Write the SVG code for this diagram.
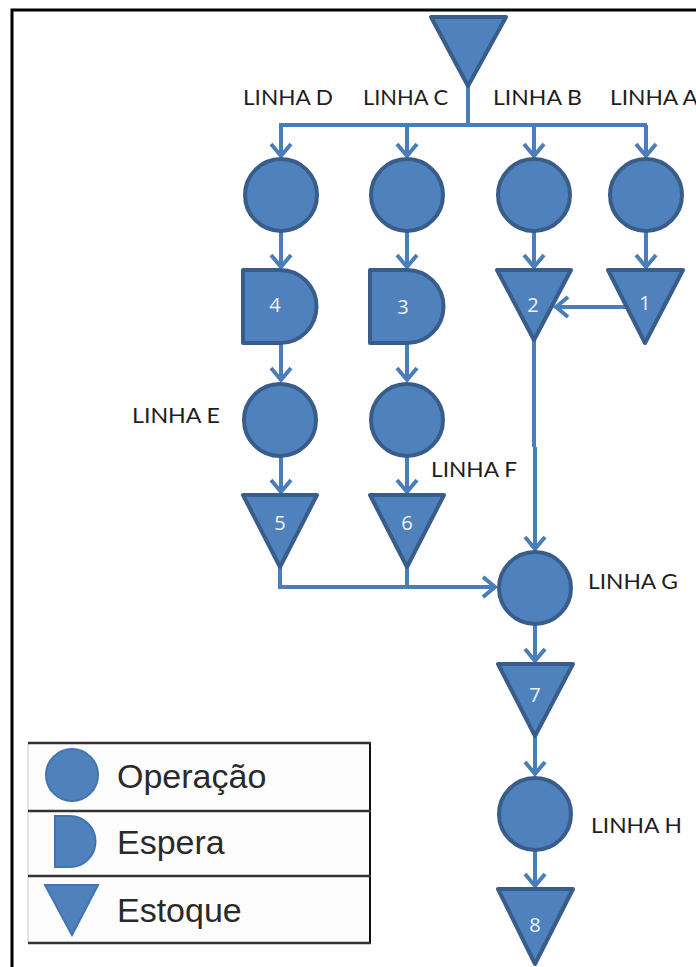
<svg xmlns="http://www.w3.org/2000/svg" width="696" height="967" viewBox="0 0 696 967">
<style>
.node{fill:#4f81bd;stroke:#385d8a;stroke-width:4;stroke-linejoin:round}
.conn{fill:none;stroke:#4a7ebb;stroke-width:4}
.num{font-family:"Open Sans","Liberation Sans",sans-serif;font-size:20px;fill:#eef3fa;text-anchor:middle}
.lbl{font-family:"Lato","Open Sans","Liberation Sans",sans-serif;font-size:21px;fill:#1e1e1e}
.leg{font-family:"Liberation Sans",Arial,sans-serif;font-size:34px;fill:#2a2a2a}
.legicon{fill:#4f81bd;stroke:#4274b0;stroke-width:2}
</style>
<defs>
<marker id="arr" markerUnits="userSpaceOnUse" markerWidth="30" markerHeight="30" refX="1" refY="0" orient="auto" overflow="visible" viewBox="-15 -15 30 30">
<path d="M-12,-10 L0,0 L-12,10" fill="none" stroke="#4a7ebb" stroke-width="4" stroke-linejoin="miter"/>
</marker>
</defs>
<rect width="696" height="967" fill="#ffffff"/>
<!-- frame -->
<path d="M12,967 V10 H696" fill="none" stroke="#000" stroke-width="3"/>

<!-- legend -->
<g id="legend">
<rect x="28" y="743" width="342" height="200" fill="#fdfdfd" stroke="none"/>
<line x1="28" y1="743" x2="28" y2="943" stroke="#c8c8c8" stroke-width="1"/>
<line x1="370" y1="743" x2="370" y2="943" stroke="#111" stroke-width="2"/>
<g stroke="#333" stroke-width="2.5">
<line x1="28" y1="743" x2="371" y2="743"/>
<line x1="28" y1="811" x2="371" y2="811"/>
<line x1="28" y1="876" x2="371" y2="876"/>
<line x1="28" y1="943" x2="371" y2="943"/>
</g>
<circle class="legicon" cx="72" cy="775" r="26"/>
<path class="legicon" d="M55,816 H70 A25.5,25.5 0 0 1 70,867 H55 Z"/>
<path class="legicon" d="M45,885 H98 L72,935 Z"/>
<text class="leg" x="117" y="788">Operação</text>
<text class="leg" x="117" y="854">Espera</text>
<text class="leg" x="117" y="922">Estoque</text>
</g>

<!-- connectors -->
<g id="connectors" class="conn">
<path d="M468,86 V125 M279,125 H647"/>
<path d="M281,125 V157" marker-end="url(#arr)"/>
<path d="M407,125 V157" marker-end="url(#arr)"/>
<path d="M534,125 V157" marker-end="url(#arr)"/>
<path d="M646,125 V157" marker-end="url(#arr)"/>
<path d="M281,232 V268" marker-end="url(#arr)"/>
<path d="M407,232 V268" marker-end="url(#arr)"/>
<path d="M534,232 V268" marker-end="url(#arr)"/>
<path d="M646,232 V268" marker-end="url(#arr)"/>
<path d="M627,307 H555" marker-end="url(#arr)"/>
<path d="M281,343 V381" marker-end="url(#arr)"/>
<path d="M407,343 V381" marker-end="url(#arr)"/>
<path d="M281,457 V493" marker-end="url(#arr)"/>
<path d="M407,457 V493" marker-end="url(#arr)"/>
<path d="M407,567 V587"/>
<path d="M280,567 V587 H496" marker-end="url(#arr)"/>
<path d="M534,340 V447 M535,447 V550" marker-end="url(#arr)"/>
<path d="M535,625 V662" marker-end="url(#arr)"/>
<path d="M535,736 V775" marker-end="url(#arr)"/>
<path d="M535,851 V887" marker-end="url(#arr)"/>
</g>

<!-- nodes -->
<g id="stock-top"><path class="node" d="M431,17 H506 L468,86 Z"/></g>
<g id="op-d"><circle class="node" cx="281" cy="195" r="36"/></g>
<g id="op-c"><circle class="node" cx="407" cy="195" r="36"/></g>
<g id="op-b"><circle class="node" cx="534" cy="195" r="36"/></g>
<g id="op-a"><circle class="node" cx="646" cy="195" r="36"/></g>
<g id="wait-4"><path class="node" d="M243,270 H280 A36.5,36.5 0 0 1 280,343 H243 Z"/><text class="num" x="275" y="312">4</text></g>
<g id="wait-3"><path class="node" d="M370,270 H407 A36.5,36.5 0 0 1 407,343 H370 Z"/><text class="num" x="403" y="314">3</text></g>
<g id="stock-2"><path class="node" d="M497,270 H571 L534,340 Z"/><text class="num" x="533" y="312">2</text></g>
<g id="stock-1"><path class="node" d="M608,270 H683 L645,343 Z"/><text class="num" x="645" y="310">1</text></g>
<g id="op-e"><circle class="node" cx="280" cy="420" r="36"/></g>
<g id="op-f"><circle class="node" cx="407" cy="420" r="36"/></g>
<g id="stock-5"><path class="node" d="M243,495 H317 L280,567 Z"/><text class="num" x="280" y="530">5</text></g>
<g id="stock-6"><path class="node" d="M370,495 H444 L407,567 Z"/><text class="num" x="407" y="530">6</text></g>
<g id="op-g"><circle class="node" cx="535" cy="588" r="36"/></g>
<g id="stock-7"><path class="node" d="M498,664 H573 L535,736 Z"/><text class="num" x="535" y="702">7</text></g>
<g id="op-h"><circle class="node" cx="535" cy="814" r="36"/></g>
<g id="stock-8"><path class="node" d="M498,889 H573 L535,964 Z"/><text class="num" x="535" y="932">8</text></g>

<!-- labels -->
<g id="labels">
<text class="lbl" x="243" y="105" textLength="90" lengthAdjust="spacingAndGlyphs">LINHA D</text>
<text class="lbl" x="363" y="105" textLength="85" lengthAdjust="spacingAndGlyphs">LINHA C</text>
<text class="lbl" x="493" y="105" textLength="89" lengthAdjust="spacingAndGlyphs">LINHA B</text>
<text class="lbl" x="610" y="105" textLength="88" lengthAdjust="spacingAndGlyphs">LINHA A</text>
<text class="lbl" x="132" y="423" textLength="88" lengthAdjust="spacingAndGlyphs">LINHA E</text>
<text class="lbl" x="431" y="477" textLength="86" lengthAdjust="spacingAndGlyphs">LINHA F</text>
<text class="lbl" x="588" y="589" textLength="90" lengthAdjust="spacingAndGlyphs">LINHA G</text>
<text class="lbl" x="591" y="833" textLength="91" lengthAdjust="spacingAndGlyphs">LINHA H</text>
</g>
</svg>
